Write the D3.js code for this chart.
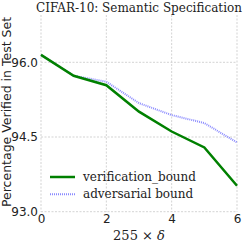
<!DOCTYPE html>
<html>
<head>
<meta charset="utf-8">
<script src="https://cdn.jsdelivr.net/npm/d3@7"></script>
<style>
  html, body { margin: 0; padding: 0; background: #fff; }
  svg { display: block; }
  .tick text { font-family: "DejaVu Sans", sans-serif; font-size: 12px; fill: #222; }
</style>
</head>
<body>
<div id="chart"></div>
<script>
var deltas = [0, 1, 2, 3, 4, 5, 6];
var verificationBound = [96.15, 95.73, 95.54, 95.01, 94.61, 94.29, 93.52];
var adversarialBound = [96.15, 95.73, 95.61, 95.18, 94.94, 94.78, 94.39];
var xTicks = [0, 2, 4, 6];
var yTicks = [93.0, 94.5, 96.0];

var W = 248, H = 248;
var margin = { top: 15, right: 11, bottom: 36.3, left: 41 };
var width = W - margin.left - margin.right;
var height = H - margin.top - margin.bottom;

var svg = d3.select('#chart')
    .append('svg')
    .attr('width', W)
    .attr('height', H);

var g = svg.append('g')
    .attr('transform', 'translate(' + margin.left + ',' + margin.top + ')');

var x = d3.scaleLinear().domain([0, 6]).range([0, width]);
var y = d3.scaleLinear().domain([93, 96.95]).range([height, 0]);

// Grid
var grid = g.append('g').attr('class', 'grid');
grid.selectAll('line.v')
    .data(xTicks)
    .enter()
    .append('line')
    .attr('class', 'v')
    .attr('x1', function(d) { return x(d); })
    .attr('x2', function(d) { return x(d); })
    .attr('y1', 0)
    .attr('y2', height);

grid.selectAll('line.h')
    .data(yTicks)
    .enter()
    .append('line')
    .attr('class', 'h')
    .attr('x1', 0)
    .attr('x2', width)
    .attr('y1', function(d) { return y(d); })
    .attr('y2', function(d) { return y(d); });

grid.selectAll('line')
    .attr('stroke', '#c8c8c8')
    .attr('stroke-width', 0.8)
    .attr('stroke-dasharray', '2,1.5');

// Axes (labels only)
var xAxis = g.append('g')
    .attr('transform', 'translate(0,' + height + ')')
    .call(d3.axisBottom(x).tickValues(xTicks).tickSize(0).tickPadding(3).tickFormat(d3.format('d')));
xAxis.select('.domain').remove();

var yAxis = g.append('g')
    .call(d3.axisLeft(y).tickValues(yTicks).tickSize(0).tickPadding(3).tickFormat(d3.format('.1f')));
yAxis.select('.domain').remove();

// Lines
var line = d3.line()
    .x(function(d) { return x(d[0]); })
    .y(function(d) { return y(d[1]); });

g.append('path')
    .datum(d3.zip(deltas, adversarialBound))
    .attr('fill', 'none')
    .attr('stroke', '#8a8aff')
    .attr('stroke-width', 2)
    .attr('stroke-dasharray', '1,1')
    .attr('d', line);

g.append('path')
    .datum(d3.zip(deltas, verificationBound))
    .attr('fill', 'none')
    .attr('stroke', '#008000')
    .attr('stroke-width', 2.5)
    .attr('d', line);

// Legend
var legend = g.append('g');
var legendItems = [
    { label: 'verification_bound', color: '#008000', width: 2.5, dash: null },
    { label: 'adversarial bound', color: '#8a8aff', width: 2, dash: '1,1' }
];
legendItems.forEach(function(item, i) {
    var ly = 162 + i * 17.3;
    legend.append('line')
        .attr('x1', 9).attr('x2', 34)
        .attr('y1', ly).attr('y2', ly)
        .attr('stroke', item.color)
        .attr('stroke-width', item.width)
        .attr('stroke-dasharray', item.dash);
    legend.append('text')
        .attr('x', 42)
        .attr('y', ly + 4)
        .attr('font-family', '"DejaVu Serif", serif')
        .attr('font-size', 12)
        .attr('fill', '#222')
        .text(item.label);
});

// Title
svg.append('text')
    .attr('x', margin.left + width / 2)
    .attr('y', 12)
    .attr('text-anchor', 'middle')
    .attr('font-family', '"DejaVu Serif", serif')
    .attr('font-size', 12)
    .attr('fill', '#222')
    .text('CIFAR-10: Semantic Specification');

// X label
var xLabel = svg.append('text')
    .attr('x', margin.left + width / 2)
    .attr('y', 240)
    .attr('text-anchor', 'middle')
    .attr('font-family', '"DejaVu Serif", serif')
    .attr('font-size', 13)
    .attr('fill', '#222');
xLabel.append('tspan').text('255 × ');
xLabel.append('tspan').attr('font-style', 'italic').text('δ');

// Y label
svg.append('text')
    .attr('transform', 'translate(11,112) rotate(-90)')
    .attr('text-anchor', 'middle')
    .attr('font-family', '"DejaVu Sans", sans-serif')
    .attr('font-size', 12.5)
    .attr('fill', '#222')
    .text('Percentage Verified in Test Set');
</script>
</body>
</html>
